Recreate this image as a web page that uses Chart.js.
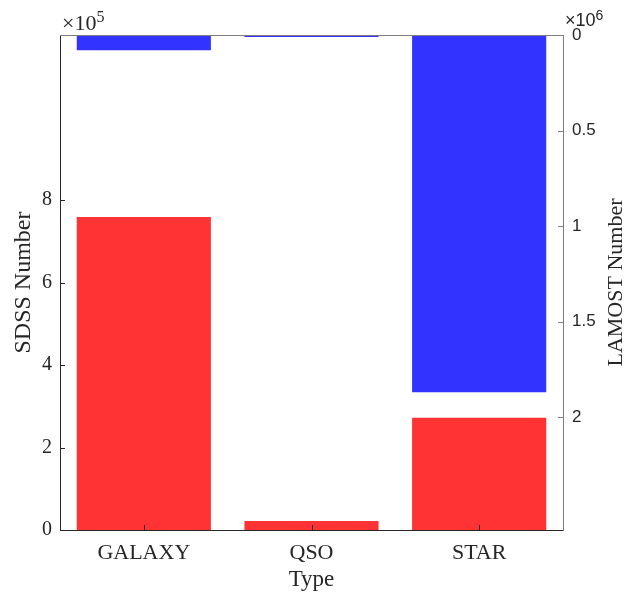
<!DOCTYPE html>
<html>
<head>
<meta charset="utf-8">
<script src="https://cdn.jsdelivr.net/npm/chart.js@4"></script>
<style>
  html, body { margin: 0; padding: 0; background: #fff; }
  #wrap { width: 639px; height: 595px; position: relative; }
</style>
</head>
<body>
<div id="wrap"><canvas id="typeChart"></canvas></div>
<script>
// ===== DATA =====
const categories = ['GALAXY', 'QSO', 'STAR'];
const sdssCounts = [759000, 22000, 272000];     // left axis, red
const lamostCounts = [80000, 10000, 1869000];   // right axis (reversed), blue
const sdssTicks = [0, 200000, 400000, 600000, 800000];
const lamostTicks = [0, 500000, 1000000, 1500000, 2000000];

const SERIF = '"Liberation Serif", "Times New Roman", serif';
const SANS = '"Liberation Sans", Arial, sans-serif';
const INK = '#262626';
const GREY = '#7f7f7f';

// inward tick marks, box top line, right title and the x10^n labels
const matlabAxes = {
  id: 'matlabAxes',
  afterDraw(chart) {
    const { ctx, chartArea: a, scales } = chart;
    ctx.save();
    ctx.lineWidth = 1;
    ctx.strokeStyle = INK;
    ctx.beginPath();
    scales.y.ticks.forEach(t => {
      const py = Math.round(scales.y.getPixelForValue(t.value)) + 0.5;
      ctx.moveTo(a.left, py); ctx.lineTo(a.left + 5, py);
    });
    scales.x.ticks.forEach((t, i) => {
      const px = Math.round(scales.x.getPixelForTick(i)) + 0.5;
      ctx.moveTo(px, a.bottom); ctx.lineTo(px, a.bottom - 5);
    });
    ctx.stroke();

    ctx.strokeStyle = GREY;
    ctx.beginPath();
    scales.y2.ticks.forEach(t => {
      const py = Math.round(scales.y2.getPixelForValue(t.value)) + 0.5;
      ctx.moveTo(a.right, py); ctx.lineTo(a.right - 5, py);
    });
    ctx.moveTo(a.left, Math.round(a.top) + 0.5);
    ctx.lineTo(a.right, Math.round(a.top) + 0.5);
    ctx.stroke();

    // exponent labels
    ctx.fillStyle = INK;
    ctx.textBaseline = 'alphabetic';
    ctx.textAlign = 'left';
    ctx.font = '22px ' + SERIF;
    ctx.fillText('\u00d710', a.left + 2, a.top - 5);
    let w = ctx.measureText('\u00d710').width;
    ctx.font = '16px ' + SERIF;
    ctx.fillText('5', a.left + 2 + w, a.top - 13);

    ctx.font = '18px ' + SANS;
    ctx.fillText('\u00d710', a.right + 2, a.top - 9);
    w = ctx.measureText('\u00d710').width;
    ctx.font = '14px ' + SANS;
    ctx.fillText('6', a.right + 2 + w, a.top - 15);

    // right axis title, reads bottom to top like the left one
    ctx.translate(616, (a.top + a.bottom) / 2);
    ctx.rotate(-Math.PI / 2);
    ctx.textAlign = 'center';
    ctx.textBaseline = 'middle';
    ctx.font = '22px ' + SERIF;
    ctx.fillText('LAMOST Number', 0, 0);
    ctx.restore();
  }
};

new Chart(document.getElementById('typeChart'), {
  type: 'bar',
  data: {
    labels: categories,
    datasets: [
      { label: 'SDSS', data: sdssCounts, backgroundColor: '#ff3333', yAxisID: 'y', grouped: false,
        barPercentage: 0.8, categoryPercentage: 1, borderWidth: 0 },
      { label: 'LAMOST', data: lamostCounts, backgroundColor: '#3333ff', yAxisID: 'y2', grouped: false,
        barPercentage: 0.8, categoryPercentage: 1, borderWidth: 0 }
    ]
  },
  options: {
    responsive: true,
    maintainAspectRatio: false,
    animation: false,
    layout: { padding: { top: 35, left: 0, right: 0, bottom: 0 } },
    plugins: { legend: { display: false }, tooltip: { enabled: false } },
    scales: {
      x: {
        grid: { display: false, drawTicks: false },
        border: { display: true, color: INK, width: 1 },
        ticks: { color: INK, font: { family: SERIF, size: 22 }, padding: 10, maxRotation: 0 },
        title: { display: true, text: 'Type', color: INK, font: { family: SERIF, size: 23 }, padding: { top: 0, bottom: 1 } },
        afterFit: s => { s.height = 65; }
      },
      y: {
        position: 'left',
        min: 0, max: 1200000,
        grid: { display: false, drawTicks: false },
        border: { display: true, color: INK, width: 1 },
        afterBuildTicks: s => { s.ticks = sdssTicks.map(v => ({ value: v })); },
        ticks: { color: INK, font: { family: SERIF, size: 20 }, padding: 8, callback: v => String(v / 100000) },
        title: { display: true, text: 'SDSS Number', color: INK, font: { family: SERIF, size: 24 }, padding: { top: 9, bottom: 0 } },
        afterFit: s => { s.width = 60; }
      },
      y2: {
        position: 'right',
        reverse: true,
        min: 0, max: 2590000,
        grid: { display: false, drawTicks: false },
        border: { display: true, color: GREY, width: 1 },
        afterBuildTicks: s => { s.ticks = lamostTicks.map(v => ({ value: v })); },
        ticks: { color: INK, font: { family: SANS, size: 17 }, padding: 9, callback: v => String(v / 1000000) },
        title: { display: false },
        afterFit: s => { s.width = 76; }
      }
    }
  },
  plugins: [matlabAxes]
});
</script>
</body>
</html>
